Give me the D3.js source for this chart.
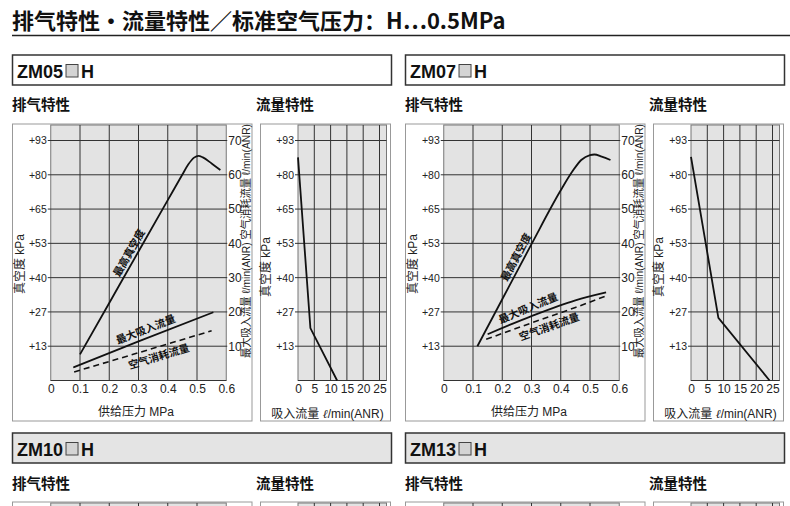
<!DOCTYPE html>
<html><head><meta charset="utf-8">
<script src="https://cdn.jsdelivr.net/npm/d3@7"></script>
<style>body{margin:0;background:#fff}svg{display:block}</style>
</head><body>
<svg id="c" width="790" height="506"></svg>
<script>
// ---------- data ----------
const titleText = "排气特性·流量特性／标准空气压力：H…0.5MPa";
const pressureTicks = [0, 0.1, 0.2, 0.3, 0.4, 0.5, 0.6];
const pressureTickLabels = ["0", "0.1", "0.2", "0.3", "0.4", "0.5", "0.6"];
const vacuumTicks = [13, 27, 40, 53, 65, 80, 93];          // kPa, left axis
const vacuumTickLabels = ["+13", "+27", "+40", "+53", "+65", "+80", "+93"];
const flowTicks = [10, 20, 30, 40, 50, 60, 70];            // ℓ/min(ANR), right axis
const suctionTicks = [0, 5, 10, 15, 20, 25];               // ℓ/min(ANR)
const upperModels = ["ZM05", "ZM07"];
const lowerModels = ["ZM10", "ZM13"];

// ZM05 : [pressure MPa, vacuum kPa] / [pressure MPa, flow ℓ/min]
const zm05MaxVacuum = [[0.1, 9.9], [0.2, 30.4], [0.3, 49.9], [0.4, 68.9], [0.45, 80.1], [0.47, 83.9], [0.49, 86.5], [0.505, 87.2], [0.52, 86.6], [0.55, 84.3], [0.58, 81.8]];
const zm05MaxSuction = [[0.077, 3.8], [0.3, 11.4], [0.556, 19.9]];
const zm05AirConsumption = [[0.08, 2.5], [0.3, 8.1], [0.55, 14.5]];
const zm05SuctionFlow = [[0, 86.6], [3.8, 20.4], [12, 0]];   // [flow, vacuum kPa]

// ZM07
const zm07MaxVacuum = [[0.115, 13], [0.2, 31.8], [0.3, 52.7], [0.4, 73.2], [0.44, 81.3], [0.47, 85.6], [0.5, 87.5], [0.515, 87.7], [0.54, 86.9], [0.57, 85.6]];
const zm07MaxSuction = [[0.15, 13.5], [0.3, 18.8], [0.45, 23.4], [0.555, 25.7]];
const zm07AirConsumption = [[0.145, 12.0], [0.3, 16.8], [0.45, 21.3], [0.553, 24.6]];
const zm07SuctionFlow = [[0, 86.8], [8.4, 24.6], [24.1, 0]];

const upperData = [
  {name: upperModels[0], vac: zm05MaxVacuum, suc: zm05MaxSuction, air: zm05AirConsumption, flow: zm05SuctionFlow},
  {name: upperModels[1], vac: zm07MaxVacuum, suc: zm07MaxSuction, air: zm07AirConsumption, flow: zm07SuctionFlow}
];

// ---------- drawing ----------
const LAT = "'Liberation Sans', Arial, 'Noto Sans CJK SC', sans-serif";
const CJK = "'Noto Sans CJK SC', 'Liberation Sans', sans-serif";
const svg = d3.select("#c");
const HALF = 393;

svg.append("text").attr("x", 12).attr("y", 29).attr("font-family", CJK)
  .attr("font-weight", "bold").attr("font-size", 22).attr("fill", "#111").text(titleText);
svg.append("line").attr("x1", 12).attr("x2", 790).attr("y1", 35.5).attr("y2", 35.5)
  .attr("stroke", "#222").attr("stroke-width", 1.5);

function modelBox(ox, y, name, fill) {
  svg.append("rect").attr("x", ox + 12.5).attr("y", y).attr("width", 379).attr("height", 30)
    .attr("fill", fill).attr("stroke", "#333").attr("stroke-width", 1.5);
  const t = svg.append("text").attr("x", ox + 17).attr("y", y + 22.5).attr("font-family", LAT)
    .attr("font-weight", "bold").attr("font-size", 18).attr("fill", "#111").text(name);
  const w = t.node().getComputedTextLength();
  svg.append("rect").attr("x", ox + 17 + w + 3).attr("y", y + 9.5).attr("width", 12).attr("height", 12.5)
    .attr("fill", "#d4d4d4").attr("stroke", "#444").attr("stroke-width", 1);
  svg.append("text").attr("x", ox + 17 + w + 18).attr("y", y + 22.5).attr("font-family", LAT)
    .attr("font-weight", "bold").attr("font-size", 18).attr("fill", "#111").text("H");
}
function sectionLabels(ox, y) {
  svg.append("text").attr("x", ox + 12).attr("y", y).attr("font-family", CJK).attr("font-weight", "bold")
    .attr("font-size", 14.5).attr("fill", "#111").text("排气特性");
  svg.append("text").attr("x", ox + 256).attr("y", y).attr("font-family", CJK).attr("font-weight", "bold")
    .attr("font-size", 14.5).attr("fill", "#111").text("流量特性");
}

const yG = d3.scaleLinear().domain([0, 70]).range([380.5, 140.5]);
const yVac = d3.scaleLinear().domain([0, ...vacuumTicks]).range([0, ...flowTicks].map(yG));
const PLOT_TOP = 125;

function styleAxis(g, size) {
  g.select(".domain").remove();
  g.selectAll("text").attr("font-family", LAT).attr("font-size", size).attr("fill", "#222");
}

function exhaustPanel(ox, top, d, full) {
  const xP = d3.scaleLinear().domain([0, 0.6]).range([ox + 50.75, ox + 226.25]);
  const g = svg.append("g");
  g.append("rect").attr("x", ox + 12.5).attr("y", top - 1).attr("width", 239.5).attr("height", 297)
    .attr("fill", "#fff").attr("stroke", "#999").attr("stroke-width", 1);
  const bottom = full ? yG(0) : 600;
  g.append("rect").attr("x", xP(0)).attr("y", top).attr("width", xP(0.6) - xP(0)).attr("height", bottom - top)
    .attr("fill", "#e3e3e3").attr("stroke", "#777").attr("stroke-width", 1);
  g.selectAll(".vg").data(pressureTicks.slice(1, -1)).join("line")
    .attr("x1", v => xP(v)).attr("x2", v => xP(v)).attr("y1", top).attr("y2", bottom)
    .attr("stroke", "#333").attr("stroke-width", 1);
  if (!full) return;
  g.selectAll(".hg").data(flowTicks).join("line")
    .attr("x1", xP(0) - 3).attr("x2", xP(0.6) + 1).attr("y1", v => yG(v)).attr("y2", v => yG(v))
    .attr("stroke", "#333").attr("stroke-width", 1);
  g.append("line").attr("x1", xP(0)).attr("x2", xP(0.6)).attr("y1", yG(0)).attr("y2", yG(0))
    .attr("stroke", "#333").attr("stroke-width", 1.2);

  g.append("g").attr("transform", `translate(0,${yG(0)})`)
    .call(d3.axisBottom(xP).tickValues(pressureTicks).tickSize(0).tickPadding(4)
      .tickFormat((v, i) => pressureTickLabels[i])).call(a => styleAxis(a, 12));
  g.append("g").attr("transform", `translate(${xP(0)},0)`)
    .call(d3.axisLeft(yVac).tickValues(vacuumTicks).tickSize(0).tickPadding(4)
      .tickFormat((v, i) => vacuumTickLabels[i])).call(a => styleAxis(a, 10.5));
  g.append("g").attr("transform", `translate(${xP(0.6)},0)`)
    .call(d3.axisRight(yG).tickValues(flowTicks).tickSize(0).tickPadding(2)).call(a => styleAxis(a, 12));

  g.append("text").attr("x", ox + 136).attr("y", 416).attr("text-anchor", "middle").attr("font-family", LAT)
    .attr("font-size", 12).attr("fill", "#222").text("供给压力 MPa");
  g.append("text").attr("transform", `translate(${ox + 24},264) rotate(-90)`).attr("text-anchor", "middle")
    .attr("font-family", LAT).attr("font-size", 12).attr("fill", "#222").text("真空度 kPa");
  g.append("text").attr("transform", `translate(${ox + 250},241) rotate(-90)`).attr("text-anchor", "middle")
    .attr("font-family", LAT).attr("font-size", 11.5).attr("fill", "#222")
    .attr("textLength", 234).attr("lengthAdjust", "spacingAndGlyphs")
    .text("最大吸入流量 ℓ/min(ANR) 空气消耗流量 ℓ/min(ANR)");

  const lineV = d3.line().x(p => xP(p[0])).y(p => yVac(p[1])).curve(d3.curveMonotoneX);
  const lineF = d3.line().x(p => xP(p[0])).y(p => yG(p[1])).curve(d3.curveMonotoneX);
  g.append("path").attr("d", lineV(d.vac)).attr("fill", "none").attr("stroke", "#111").attr("stroke-width", 1.8);
  g.append("path").attr("d", lineF(d.suc)).attr("fill", "none").attr("stroke", "#111").attr("stroke-width", 1.8);
  g.append("path").attr("d", lineF(d.air)).attr("fill", "none").attr("stroke", "#111").attr("stroke-width", 1.6)
    .attr("stroke-dasharray", "6,4");

  // labels along curves
  function along(series, yScale, p, off, text, fs) {
    let i = 0; while (i < series.length - 2 && series[i + 1][0] < p) i++;
    const s0 = series[i], s1 = series[i + 1];
    const t = (p - s0[0]) / (s1[0] - s0[0]);
    const x = xP(p), y = yScale(s0[1]) + t * (yScale(s1[1]) - yScale(s0[1]));
    const dx = xP(s1[0]) - xP(s0[0]), dy = yScale(s1[1]) - yScale(s0[1]);
    const ang = Math.atan2(dy, dx);
    const nx = Math.sin(ang) * off, ny = -Math.cos(ang) * off;
    g.append("text").attr("transform", `translate(${x + nx},${y + ny}) rotate(${ang * 180 / Math.PI})`)
      .attr("text-anchor", "middle").attr("dy", "0.35em").attr("font-family", CJK).attr("font-weight", "bold")
      .attr("font-size", fs).attr("fill", "#111").text(text);
  }
  along(d.vac, yVac, d.name === "ZM05" ? 0.29 : 0.27, 7.5, "最高真空度", 10.5);
  along(d.suc, yG, d.name === "ZM05" ? 0.335 : 0.30, 8.5, "最大吸入流量", 10.5);
  along(d.air, yG, d.name === "ZM05" ? 0.36 : 0.35, -9.5, "空气消耗流量", 10.5);
}

function flowPanel(ox, top, d, full) {
  const xS = d3.scaleLinear().domain([0, 25]).range([ox + 298, ox + 379.5]);
  const g = svg.append("g");
  g.append("rect").attr("x", ox + 260.5).attr("y", top - 1).attr("width", 130).attr("height", 297)
    .attr("fill", "#fff").attr("stroke", "#999").attr("stroke-width", 1);
  const bottom = full ? yG(0) : 600;
  g.append("rect").attr("x", xS(0)).attr("y", top).attr("width", ox + 386.5 - xS(0)).attr("height", bottom - top)
    .attr("fill", "#e3e3e3").attr("stroke", "#777").attr("stroke-width", 1);
  g.selectAll(".vg").data(suctionTicks.slice(1)).join("line")
    .attr("x1", v => xS(v)).attr("x2", v => xS(v)).attr("y1", top).attr("y2", bottom)
    .attr("stroke", "#333").attr("stroke-width", 1);
  if (!full) return;
  g.selectAll(".hg").data(flowTicks).join("line")
    .attr("x1", xS(0) - 3).attr("x2", ox + 386.5).attr("y1", v => yG(v)).attr("y2", v => yG(v))
    .attr("stroke", "#333").attr("stroke-width", 1);
  g.append("line").attr("x1", xS(0)).attr("x2", ox + 386.5).attr("y1", yG(0)).attr("y2", yG(0))
    .attr("stroke", "#333").attr("stroke-width", 1.2);
  g.append("g").attr("transform", `translate(0,${yG(0)})`)
    .call(d3.axisBottom(xS).tickValues(suctionTicks).tickSize(0).tickPadding(4)).call(a => styleAxis(a, 12));
  g.append("g").attr("transform", `translate(${xS(0)},0)`)
    .call(d3.axisLeft(yVac).tickValues(vacuumTicks).tickSize(0).tickPadding(4)
      .tickFormat((v, i) => vacuumTickLabels[i])).call(a => styleAxis(a, 10.5));
  g.append("text").attr("transform", `translate(${ox + 270},267) rotate(-90)`).attr("text-anchor", "middle")
    .attr("font-family", LAT).attr("font-size", 12).attr("fill", "#222").text("真空度 kPa");
  const xt = g.append("text").attr("x", ox + 327.5).attr("y", 418).attr("text-anchor", "middle").attr("font-family", LAT)
    .attr("font-size", 12).attr("fill", "#222");
  xt.append("tspan").text("吸入流量 ");
  xt.append("tspan").attr("font-family", "'DejaVu Serif', serif").attr("font-style", "italic").text("ℓ");
  xt.append("tspan").text("/min(ANR)");
  const line = d3.line().x(p => xS(p[0])).y(p => yVac(p[1]));
  g.append("path").attr("d", line(d.flow)).attr("fill", "none").attr("stroke", "#111").attr("stroke-width", 1.8);
}

upperData.forEach((d, i) => {
  const ox = i * HALF;
  modelBox(ox, 55, d.name, "#fff");
  sectionLabels(ox, 110);
  exhaustPanel(ox, PLOT_TOP, d, true);
  flowPanel(ox, PLOT_TOP, d, true);
});
lowerModels.forEach((name, i) => {
  const ox = i * HALF;
  modelBox(ox, 433, name, "#e4e4e4");
  sectionLabels(ox, 489);
  exhaustPanel(ox, 503, null, false);
  flowPanel(ox, 503, null, false);
});
</script>
</body></html>
